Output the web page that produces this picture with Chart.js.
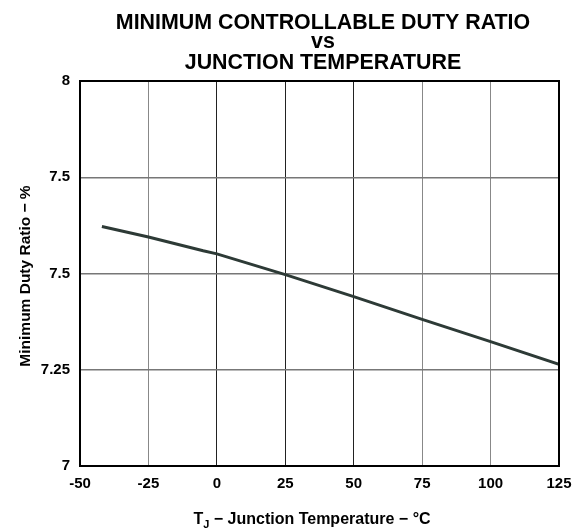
<!DOCTYPE html>
<html>
<head>
<meta charset="utf-8">
<script src="https://cdn.jsdelivr.net/npm/chart.js@4/dist/chart.umd.min.js"></script>
<style>
  html, body { margin: 0; padding: 0; background: #fff; }
  #wrap { width: 583px; height: 531px; }
</style>
</head>
<body>
<div id="wrap"><canvas id="c" width="583" height="531"></canvas></div>
<script>
const titleLines = ['MINIMUM CONTROLLABLE DUTY RATIO', 'vs', 'JUNCTION TEMPERATURE'];
const yAxisTitle = 'Minimum Duty Ratio \u2212 %';
const xAxisTitleParts = ['T', 'J', ' \u2212 Junction Temperature \u2212 \u00B0C'];
const temperatures = [-42, -25, -5, 0, 25, 50, 75, 100, 125];
const dutyRatio = [7.622, 7.595, 7.559, 7.551, 7.497, 7.44, 7.381, 7.323, 7.264];
const yTickValues = [7, 7.25, 7.5, 7.75, 8];
const yTickLabels = ['7', '7.25', '7.5', '7.5', '8'];
const xTickValues = [-50, -25, 0, 25, 50, 75, 100, 125];

const FONT = 'Liberation Sans, Arial, Helvetica, sans-serif';

const decor = {
  id: 'decor',
  afterDraw(chart) {
    const ctx = chart.ctx;
    const a = chart.chartArea;
    ctx.save();
    // frame
    ctx.strokeStyle = '#000';
    ctx.lineWidth = 2;
    ctx.strokeRect(a.left, a.top, a.right - a.left, a.bottom - a.top);
    // title
    ctx.fillStyle = '#000';
    ctx.font = 'bold 21.4px ' + FONT;
    ctx.textAlign = 'center';
    ctx.textBaseline = 'alphabetic';
    const cx = 323;
    const ys = [28.5, 47.5, 68.5];
    titleLines.forEach((t, i) => ctx.fillText(t, cx, ys[i]));
    // y axis title
    ctx.font = 'bold 15.5px ' + FONT;
    ctx.save();
    ctx.translate(30, 276);
    ctx.rotate(-Math.PI / 2);
    ctx.fillText(yAxisTitle, 0, 0);
    ctx.restore();
    // x axis title with subscript
    const f1 = 'bold 16px ' + FONT, f2 = 'bold 11px ' + FONT;
    ctx.font = f1; const w0 = ctx.measureText(xAxisTitleParts[0]).width;
    const w2 = ctx.measureText(xAxisTitleParts[2]).width;
    ctx.font = f2; const w1 = ctx.measureText(xAxisTitleParts[1]).width;
    const total = w0 + w1 + w2;
    let x = 312 - total / 2;
    const y = 524;
    ctx.textAlign = 'left';
    ctx.font = f1; ctx.fillText(xAxisTitleParts[0], x, y); x += w0;
    ctx.font = f2; ctx.fillText(xAxisTitleParts[1], x, y + 4); x += w1;
    ctx.font = f1; ctx.fillText(xAxisTitleParts[2], x, y);
    ctx.restore();
  }
};

new Chart(document.getElementById('c'), {
  type: 'line',
  data: {
    datasets: [{
      data: temperatures.map((t, i) => ({ x: t, y: dutyRatio[i] })),
      borderColor: '#2d3a36',
      borderWidth: 3,
      pointRadius: 0,
      tension: 0,
      fill: false
    }]
  },
  options: {
    responsive: false,
    animation: false,
    devicePixelRatio: 1,
    layout: { padding: { top: 81, right: 24, bottom: 0, left: 0 } },
    plugins: { legend: { display: false }, title: { display: false }, tooltip: { enabled: false } },
    scales: {
      x: {
        type: 'linear',
        min: -50, max: 125,
        afterFit(s) { s.height = 65; },
        afterBuildTicks(s) { s.ticks = xTickValues.map(v => ({ value: v })); },
        ticks: {
          color: '#000',
          font: { family: FONT, size: 15, weight: 'bold' },
          padding: 9,
          maxRotation: 0,
          autoSkip: false,
          callback: v => String(v)
        },
        grid: {
          drawTicks: false,
          color: ctx => ([0, 25, 50].includes(ctx.tick && ctx.tick.value) ? '#222' : '#888'),
          lineWidth: 1
        },
        border: { display: false }
      },
      y: {
        type: 'linear',
        min: 7, max: 8,
        afterFit(s) { s.width = 80; },
        afterBuildTicks(s) { s.ticks = yTickValues.map(v => ({ value: v })); },
        ticks: {
          color: '#000',
          font: { family: FONT, size: 15, weight: 'bold' },
          padding: 10,
          autoSkip: false,
          callback: (v) => { const i = yTickValues.indexOf(v); return i >= 0 ? yTickLabels[i] : ''; }
        },
        grid: { drawTicks: false, color: '#777', lineWidth: 1.5 },
        border: { display: false }
      }
    }
  },
  plugins: [decor]
});
</script>
</body>
</html>
